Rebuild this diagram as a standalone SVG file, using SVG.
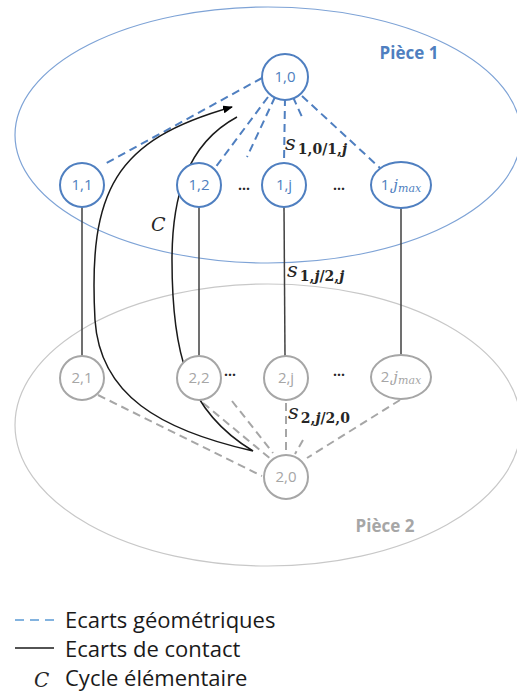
<svg xmlns="http://www.w3.org/2000/svg" width="517" height="691" viewBox="0 0 517 691">
<style>
.n1{fill:#fff;stroke:#4f7fc0;stroke-width:2}
.n2{fill:#fff;stroke:#a6a6a6;stroke-width:2}
.t1{font-family:"Open Sans",sans-serif;font-size:15px;fill:#4f7fc0;text-anchor:middle}
.t2{font-family:"Open Sans",sans-serif;font-size:15px;fill:#a6a6a6;text-anchor:middle}
.bd{stroke:#4f7fc0;stroke-width:2;stroke-dasharray:8,5;fill:none}
.gd{stroke:#a6a6a6;stroke-width:2;stroke-dasharray:8,5;fill:none}
.sol{stroke:#404040;stroke-width:1.5;fill:none}
.m{font-family:"DejaVu Serif","Liberation Serif",serif;fill:#262626}
.dots{font-family:"Open Sans",sans-serif;font-size:14px;font-weight:bold;fill:#262626;text-anchor:middle}
.leg{font-family:"Open Sans",sans-serif;font-size:22px;fill:#1a1a1a}
</style>
<defs>
<marker id="arr" markerWidth="10" markerHeight="8" refX="9" refY="4" orient="auto" markerUnits="userSpaceOnUse">
<path d="M0,0 L10,4 L0,8 Z" fill="#000"/>
</marker>
</defs>
<g id="piece1"><ellipse cx="268" cy="135" rx="253" ry="128" fill="none" stroke="#7ea3d6" stroke-width="1.2"/>
<text x="409" y="59" font-family="Open Sans,sans-serif" font-size="17" font-weight="bold" fill="#4f7fc0" text-anchor="middle">Pièce 1</text></g>
<g id="piece2"><ellipse cx="268" cy="425" rx="253" ry="141" fill="none" stroke="#c8c8c8" stroke-width="1.2"/>
<text x="385" y="532" font-family="Open Sans,sans-serif" font-size="17" font-weight="bold" fill="#a6a6a6" text-anchor="middle">Pièce 2</text></g>
<g id="connectors">
<line class="bd" x1="262" y1="78" x2="103" y2="165"/>
<line class="bd" x1="268" y1="97" x2="215" y2="168"/>
<line class="bd" x1="275" y1="97" x2="247" y2="157"/>
<line class="bd" x1="285" y1="98" x2="284" y2="163"/>
<line class="bd" x1="293" y1="97" x2="302" y2="117"/>
<line class="bd" x1="302" y1="96" x2="380" y2="168"/>
<line class="sol" x1="82" y1="207" x2="82" y2="356"/>
<line class="sol" x1="199" y1="207" x2="199" y2="356"/>
<line class="sol" x1="284" y1="207" x2="285" y2="356"/>
<line class="sol" x1="401" y1="208" x2="401" y2="355"/>
<line class="gd" x1="98" y1="395" x2="262" y2="476"/>
<line class="gd" x1="203" y1="403" x2="272" y2="460"/>
<line class="gd" x1="232" y1="401" x2="273" y2="453"/>
<line class="gd" x1="286" y1="403" x2="286" y2="453"/>
<line class="gd" x1="303" y1="440" x2="295" y2="454"/>
<line class="gd" x1="400" y1="400" x2="307" y2="458"/>
<path d="M237,117 C185,145 172,200 172,260 C172,350 185,410 253,451 C160,430 100,395 95,320 C88,190 115,140 232,107" fill="none" stroke="#1a1a1a" stroke-width="1.5" marker-end="url(#arr)"/>
</g>
<g id="n10"><circle class="n1" cx="285" cy="77" r="23"/><text class="t1" x="285" y="82">1,0</text></g>
<g id="n11"><circle class="n1" cx="82" cy="185" r="22"/><text class="t1" x="82" y="190">1,1</text></g>
<g id="n12"><circle class="n1" cx="199" cy="185" r="22"/><text class="t1" x="199" y="190">1,2</text></g>
<g id="n1j"><circle class="n1" cx="284" cy="185" r="22"/><text class="t1" x="284" y="190">1,j</text></g>
<g id="n1jmax"><ellipse class="n1" cx="401" cy="185" rx="30" ry="23"/><text class="t1" x="401" y="190">1,<tspan font-family="DejaVu Serif,serif" font-style="italic">j</tspan><tspan font-family="DejaVu Serif,serif" font-style="italic" font-size="11" dy="2">max</tspan></text></g>
<g id="n21"><circle class="n2" cx="82" cy="378" r="22"/><text class="t2" x="82" y="383">2,1</text></g>
<g id="n22"><circle class="n2" cx="199" cy="378" r="22"/><text class="t2" x="199" y="383">2,2</text></g>
<g id="n2j"><circle class="n2" cx="286" cy="378" r="22"/><text class="t2" x="286" y="383">2,j</text></g>
<g id="n2jmax"><ellipse class="n2" cx="401" cy="377" rx="30" ry="22"/><text class="t2" x="401" y="382">2,<tspan font-family="DejaVu Serif,serif" font-style="italic">j</tspan><tspan font-family="DejaVu Serif,serif" font-style="italic" font-size="11" dy="2">max</tspan></text></g>
<g id="n20"><circle class="n2" cx="286" cy="477" r="22"/><text class="t2" x="286" y="482">2,0</text></g>
<g id="labels">
<text class="dots" x="244" y="190">...</text>
<text class="dots" x="339" y="190">...</text>
<text class="dots" x="230" y="376">...</text>
<text class="dots" x="339" y="376">...</text>
<text class="m" x="285" y="150" font-size="21" font-style="italic">s<tspan font-size="14" font-style="normal" font-weight="bold" dx="2" dy="4">1,0/1,<tspan font-style="italic">j</tspan></tspan></text>
<text class="m" x="287" y="277" font-size="21" font-style="italic">s<tspan font-size="14" font-style="normal" font-weight="bold" dx="2" dy="4">1,<tspan font-style="italic">j</tspan>/2,<tspan font-style="italic">j</tspan></tspan></text>
<text class="m" x="288" y="419" font-size="21" font-style="italic">s<tspan font-size="14" font-style="normal" font-weight="bold" dx="2" dy="4">2,<tspan font-style="italic">j</tspan>/2,0</tspan></text>
<text class="m" x="151" y="231" font-size="19" font-style="italic">C</text>
</g>
<g id="legend">
<line x1="15" y1="620" x2="54" y2="620" stroke="#5b9bd5" stroke-width="1.5" stroke-dasharray="9,6"/>
<text class="leg" x="65" y="628">Ecarts géométriques</text>
<line x1="15" y1="648" x2="54" y2="648" stroke="#1a1a1a" stroke-width="1.5"/>
<text class="leg" x="65" y="657">Ecarts de contact</text>
<text class="m" x="34" y="687" font-size="20" font-style="italic">C</text>
<text class="leg" x="65" y="686">Cycle élémentaire</text>
</g>
</svg>
